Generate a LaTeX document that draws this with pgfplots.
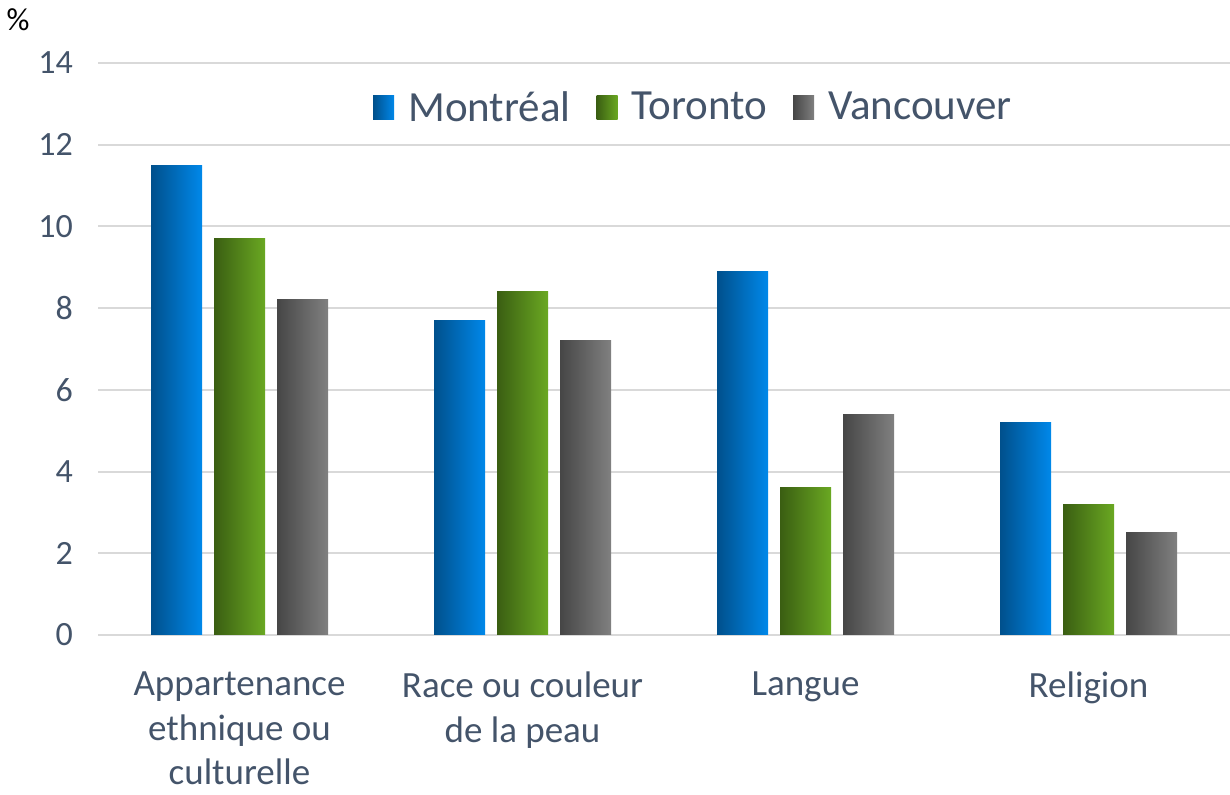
\documentclass[border=0pt]{standalone}
\usepackage{pgfplots}
\pgfplotsset{compat=1.18}
\usepackage{fontspec}
\setmainfont{Carlito}
\definecolor{txt}{HTML}{44546A}
\definecolor{gridc}{HTML}{D9D9D9}
\definecolor{blueA}{HTML}{00508C}
\definecolor{blueB}{HTML}{0088EA}
\definecolor{greenA}{HTML}{3A5E12}
\definecolor{greenB}{HTML}{6AA822}
\definecolor{grayA}{HTML}{464646}
\definecolor{grayB}{HTML}{808080}

\begin{document}
\begin{tikzpicture}
\begin{axis}[name=ax,
  scale only axis, width=566pt, height=286pt,
  ybar, bar width=25.5pt,
  xmin=-0.5, xmax=3.5, ymin=0, ymax=14,
  enlargelimits=false,
  xtick={0,1,2,3},
  xticklabels={{Appartenance\\ethnique ou\\culturelle},{Race ou couleur\\de la peau},{Langue},{Religion}},
  ytick={0,2,4,6,8,10,12,14},
  ymajorgrids, major grid style={color=gridc, line width=1pt},
  axis line style={draw=none}, major tick length=0pt,
  yticklabel style={font=\fontsize{17}{22}\selectfont, text=txt, xshift=-9pt},
  /pgf/number format/assume math mode=true,
  xticklabel style={font=\fontsize{18.5}{22.2}\selectfont, text=txt, align=center, anchor=north, yshift=-15pt},
  legend style={draw=none, fill=none, at={(0.527,0.922)}, anchor=center,
    font=\fontsize{21.5}{26}\selectfont, text=txt,
    /tikz/every odd column/.append style={column sep=5pt},
    /tikz/every even column/.append style={column sep=11pt}},
  legend columns=-1,
  legend image code/.code={\path[#1,draw=none] (0pt,-6pt) rectangle (10.5pt,6pt);},
  mont/.style={draw=none, left color=blueA, right color=blueB, bar shift=-31.5pt},
  toro/.style={draw=none, left color=greenA, right color=greenB, bar shift=0pt},
  vanc/.style={draw=none, left color=grayA, right color=grayB, bar shift=31.5pt},
]
% one bar per plot so that each bar gets its own gradient
\addplot[mont] coordinates {(0,11.5)};
\addlegendentry{Montréal}
\addplot[toro] coordinates {(0,9.7)};
\addlegendentry{Toronto}
\addplot[vanc] coordinates {(0,8.2)};
\addlegendentry{Vancouver}
\addplot[mont,forget plot] coordinates {(1,7.7)};
\addplot[toro,forget plot] coordinates {(1,8.4)};
\addplot[vanc,forget plot] coordinates {(1,7.2)};
\addplot[mont,forget plot] coordinates {(2,8.9)};
\addplot[toro,forget plot] coordinates {(2,3.6)};
\addplot[vanc,forget plot] coordinates {(2,5.4)};
\addplot[mont,forget plot] coordinates {(3,5.2)};
\addplot[toro,forget plot] coordinates {(3,3.2)};
\addplot[vanc,forget plot] coordinates {(3,2.5)};
\end{axis}
\node[font=\fontsize{16}{22}\selectfont, text=black] at ([xshift=-40pt,yshift=21.5pt]ax.north west) {\%};
\pgfresetboundingbox
\path[use as bounding box] ([shift={(-49pt,-80pt)}]ax.south west) rectangle ([shift={(0pt,31.5pt)}]ax.north east);
\end{tikzpicture}
\end{document}
